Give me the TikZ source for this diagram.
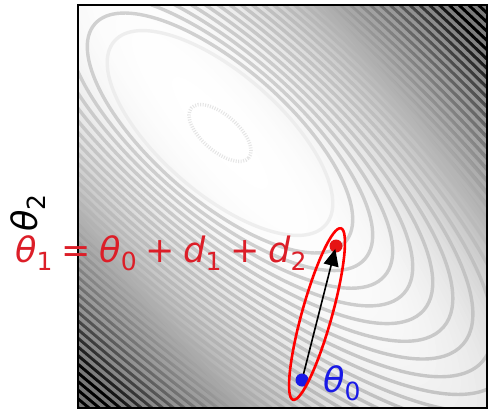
\documentclass[tikz,border=0pt]{standalone}
\usepackage{fontspec}
\newfontfamily\dvs{DejaVu Sans}
\usetikzlibrary{arrows.meta}
\definecolor{tred}{RGB}{220,30,40}
\definecolor{tblue}{RGB}{25,25,230}
\definecolor{dotred}{RGB}{230,20,20}
\newcommand{\mysub}[1]{\raisebox{-8pt}{\fontsize{25}{25}\selectfont\upshape #1}}
\newcommand{\opsp}{\hspace{0.25em}}
\begin{document}
\begin{tikzpicture}[x=1pt,y=1pt,
  contour/.style={line width=3.4pt, draw opacity=0.8},
  lbl/.style={inner sep=0pt, font=\dvs\fontsize{35}{40}\selectfont},
  dot/.style={circle, inner sep=0pt, minimum size=13pt}]
\useasboundingbox (0,0) rectangle (489,410);
% background shading and contours
\begin{scope}
  \clip (78,2) rectangle (487,405);
  \fill[black] (78,2) rectangle (487,405);
  \foreach \i in {115,114,...,1}{
    \pgfmathsetmacro\pct{min(100,130*(\i/100)^2.5)}
    \pgfmathsetlengthmacro\ra{12*\i}
    \pgfmathsetlengthmacro\rb{2.9*\i}
    \fill[black!\pct, shift={(220,277)}, rotate=-50] (0,0) ellipse [x radius=\ra, y radius=\rb];
  }
  \foreach \k in {0,...,42}{
    \pgfmathsetlengthmacro\ra{140+26*\k}
    \pgfmathsetlengthmacro\rb{60+6.6*\k}
    \pgfmathsetmacro\cp{\k==0 ? 8 : min(50,21.6+0.6*\k)}
    \draw[contour, draw=black!\cp, shift={(220,277)}, rotate=-41] (0,0) ellipse [x radius=\ra, y radius=\rb];
  }
  \draw[draw=black!20, draw opacity=0.5, line width=3.5pt, dash pattern=on 1pt off 1.5pt, shift={(220,277)}, rotate=-41] (0,0) ellipse [x radius=38pt, y radius=18pt];
\end{scope}
\draw[line width=2pt] (78,2) rectangle (487,405);
% points and step
\coordinate (p0) at (302,30);
\coordinate (p1) at (336,164);
\coordinate (ec) at (317,96);
\node[dot, fill=dotred] (t1) at (p1) {};
\draw[-{Triangle[length=17pt,width=15pt]}, line width=1.6pt, shorten >=3pt] (p0) -- (t1.center);
\node[dot, fill=tblue] (t0) at (p0) {};
\draw[red, line width=2.6pt, rotate around={74.4:(ec)}] (ec) ellipse [x radius=89pt, y radius=15pt];
% labels
\node[lbl, anchor=base west, text=tred] (eq) at (15,148)
  {\itshape θ\mysub{1}\opsp{\upshape =}\opsp θ\mysub{0}\opsp{\upshape +}\opsp d\mysub{1}\opsp{\upshape +}\opsp d\mysub{2}};
\node[lbl, anchor=base west, text=tblue] (l0) at (323,18) {\itshape θ\mysub{0}};
\node[lbl, rotate=90, text=black] (l2) at (28,197) {\itshape θ\mysub{2}};
\end{tikzpicture}
\end{document}
